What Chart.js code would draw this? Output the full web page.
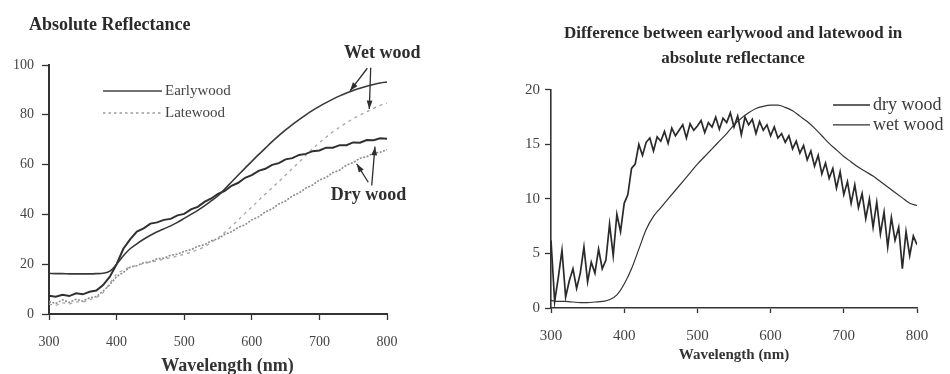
<!DOCTYPE html>
<html>
<head>
<meta charset="utf-8">
<script src="https://cdn.jsdelivr.net/npm/chart.js@4.4.1/dist/chart.umd.min.js"></script>
<style>
  html, body { margin: 0; padding: 0; background: #fff; }
  #wrap { position: relative; width: 950px; height: 374px; overflow: hidden; }
  #c1 { position: absolute; left: 0; top: 0; }
  #c2 { position: absolute; left: 480px; top: 0; }
</style>
</head>
<body>
<div id="wrap">
  <canvas id="c1" width="480" height="374"></canvas>
  <canvas id="c2" width="470" height="374"></canvas>
</div>
<script>
// ---- wavelength grids (nm) ----
const wl10 = [300,310,320,330,340,350,360,370,380,390,
              400,410,420,430,440,450,460,470,480,490,
              500,510,520,530,540,550,560,570,580,590,
              600,610,620,630,640,650,660,670,680,690,
              700,710,720,730,740,750,760,770,780,790,800];
const wl5 = [300,305,310,315,320,325,330,335,340,345,350,355,360,365,370,375,380,385,390,395,
             400,405,410,415,420,425,430,435,440,445,450,455,460,465,470,475,480,485,490,495,
             500,505,510,515,520,525,530,535,540,545,550,555,560,565,570,575,580,585,590,595,
             600,605,610,615,620,625,630,635,640,645,650,655,660,665,670,675,680,685,690,695,
             700,705,710,715,720,725,730,735,740,745,750,755,760,765,770,775,780,785,790,795,800];

// ---- absolute reflectance (%) ----
const earlyWet = [16.3,16.2,16.2,16.1,16.1,16.1,16.1,16.2,16.4,17.2,
                  20.0,23.4,26.2,28.2,30.0,31.6,33.0,34.2,35.4,36.8,
                  38.4,40.0,41.6,43.4,45.4,47.5,50.2,53.0,55.8,58.6,
                  61.3,64.0,66.6,69.2,71.6,73.9,76.1,78.1,80.0,81.8,
                  83.4,84.9,86.3,87.6,88.8,89.8,90.7,91.5,92.2,92.8,93.2];
const earlyDry = [7.3,6.9,7.7,7.2,8.3,7.9,8.9,9.4,11.6,15.0,
                  20.0,26.2,30.0,33.1,34.4,36.3,36.8,37.8,38.2,39.6,
                  40.2,42.0,43.0,45.0,46.4,48.2,49.4,51.5,52.7,54.7,
                  55.8,57.5,58.3,59.9,60.6,62.1,62.6,63.9,64.3,65.4,
                  65.7,66.8,66.8,67.8,67.8,68.9,68.8,69.9,69.8,70.6,70.4];
const lateWet = [4.0,3.5,4.5,4.1,4.9,4.9,5.7,6.6,8.6,12.4,
                 16.0,17.6,18.8,19.6,20.2,20.8,21.4,22.0,22.6,23.2,
                 24.0,24.8,25.8,27.0,28.8,30.6,32.8,35.2,37.8,40.4,
                 43.0,45.6,48.2,50.7,53.2,55.8,58.4,61.0,63.8,66.4,
                 68.8,71.0,73.2,75.0,76.8,78.4,79.9,81.2,82.6,83.8,84.6];
const lateDry = [5.0,4.2,5.7,4.6,5.9,5.2,6.5,7.0,9.2,11.8,
                 15.0,16.7,18.8,19.4,20.6,21.0,22.2,22.4,23.6,24.0,
                 25.2,25.8,27.2,27.8,29.4,30.2,32.0,33.0,34.8,35.8,
                 37.8,39.0,41.0,42.2,44.2,45.4,47.4,48.6,50.6,51.8,
                 53.8,54.8,56.8,57.8,59.8,60.8,62.6,63.2,64.6,65.0,66.0];

// ---- earlywood minus latewood (%) ----
const diffDry = [6.2,0.6,2.8,5.3,1.0,2.5,3.6,1.8,3.2,5.6,2.4,4.2,3.2,5.4,3.6,4.4,7.7,4.8,8.6,7.0,
                 9.6,10.4,12.8,13.2,15.0,14.0,15.2,15.6,14.4,15.7,15.3,16.2,15.1,16.5,15.8,16.3,16.8,15.6,16.9,16.3,
                 16.7,17.2,16.1,17.0,16.6,17.5,16.4,17.4,17.0,17.9,16.6,17.6,15.9,17.5,16.8,17.3,16.0,17.1,16.3,16.8,
                 15.8,16.6,15.6,16.0,15.2,15.8,14.6,15.3,14.2,14.9,13.6,14.4,13.0,14.0,12.3,13.3,11.9,12.8,11.0,12.5,
                 10.4,11.6,9.6,11.3,9.2,10.5,8.2,10.0,7.4,9.7,6.8,8.8,5.6,8.3,6.2,7.4,3.6,7.0,4.8,6.6,5.8];
const diffWet = [0.7,0.6,0.6,0.55,0.5,0.5,0.55,0.6,0.75,1.2,
                 2.2,3.6,5.4,7.2,8.4,9.2,10.0,10.8,11.6,12.4,
                 13.2,13.9,14.6,15.3,16.0,16.8,17.4,17.9,18.3,18.5,
                 18.6,18.6,18.4,18.1,17.6,17.1,16.5,15.8,15.1,14.5,
                 13.9,13.4,12.9,12.5,12.1,11.6,11.1,10.6,10.1,9.6,9.4];

// ---- axis ticks ----
const xTicks = [300, 400, 500, 600, 700, 800];
const yTicksAbs = [0, 20, 40, 60, 80, 100];
const yTicksDiff = [0, 5, 10, 15, 20];

const SERIF = "'Liberation Serif', 'Times New Roman', serif";
const INK = '#2e2e2e';
const GREY = '#8c8c8c';

const pts = (xs, ys) => ys.map((v, i) => ({ x: xs[i], y: v }));
const fixedTicks = arr => scale => { scale.ticks = arr.map(v => ({ value: v })); };

// let the y tick labels spill left of a narrow axis box
const labelRoom = {
  id: 'labelRoom',
  afterLayout(chart) { chart.scales.y.left = 0; }
};

function arrow(ctx, x1, y1, x2, y2, head) {
  ctx.beginPath(); ctx.moveTo(x1, y1); ctx.lineTo(x2, y2); ctx.stroke();
  const a = Math.atan2(y2 - y1, x2 - x1);
  ctx.beginPath();
  ctx.moveTo(x2, y2);
  ctx.lineTo(x2 - head * Math.cos(a - 0.33), y2 - head * Math.sin(a - 0.33));
  ctx.lineTo(x2 - head * Math.cos(a + 0.33), y2 - head * Math.sin(a + 0.33));
  ctx.closePath(); ctx.fill();
}

// callouts on the reflectance panel, in (nm, %) units
const wetCallout = { text: 'Wet wood', at: [793, 104.8],
  arrows: [[770.9, 98.7, 745.3, 89.6], [775.9, 98.9, 773.8, 82.3]] };
const dryCallout = { text: 'Dry wood', at: [772.6, 47.6],
  arrows: [[777.4, 51.6, 782.2, 67.2], [772.3, 52.9, 755.2, 60.3]] };
const absXTitle = { text: 'Wavelength (nm)', atNm: 564, offsetY: 52 };

const absDecor = {
  id: 'absDecor',
  afterDatasetsDraw(chart) {
    const { ctx, chartArea, scales: { x, y } } = chart;
    ctx.save();
    ctx.strokeStyle = INK; ctx.fillStyle = INK; ctx.lineWidth = 1.3;
    [wetCallout, dryCallout].forEach(c => {
      c.arrows.forEach(a => arrow(ctx, x.getPixelForValue(a[0]), y.getPixelForValue(a[1]),
                                       x.getPixelForValue(a[2]), y.getPixelForValue(a[3]), 9));
      ctx.font = 'bold 18px ' + SERIF;
      ctx.textAlign = 'center'; ctx.textBaseline = 'middle';
      ctx.fillText(c.text, x.getPixelForValue(c.at[0]), y.getPixelForValue(c.at[1]));
    });
    // axis title under the wavelength ticks
    ctx.fillStyle = '#333';
    ctx.fillText(absXTitle.text, x.getPixelForValue(absXTitle.atNm), chartArea.bottom + absXTitle.offsetY);
    // legend
    const lx = chartArea.left + 54, ly = chartArea.top + 26;
    ctx.lineWidth = 1.6; ctx.strokeStyle = '#444';
    ctx.beginPath(); ctx.moveTo(lx, ly); ctx.lineTo(lx + 59, ly); ctx.stroke();
    ctx.strokeStyle = '#9a9a9a'; ctx.setLineDash([2.5, 3]);
    ctx.beginPath(); ctx.moveTo(lx, ly + 22); ctx.lineTo(lx + 59, ly + 22); ctx.stroke();
    ctx.setLineDash([]);
    ctx.font = '15px ' + SERIF; ctx.fillStyle = '#444';
    ctx.textAlign = 'left'; ctx.textBaseline = 'middle';
    ctx.fillText('Earlywood', lx + 62, ly);
    ctx.fillText('Latewood', lx + 62, ly + 22);
    ctx.restore();
  }
};

const diffLegend = {
  id: 'diffLegend',
  afterDatasetsDraw(chart) {
    const { ctx, chartArea } = chart;
    const lx = chartArea.left + 282, ly = chartArea.top + 15;
    ctx.save();
    ctx.strokeStyle = INK; ctx.lineWidth = 1.6;
    ctx.beginPath(); ctx.moveTo(lx, ly); ctx.lineTo(lx + 37, ly); ctx.stroke();
    ctx.lineWidth = 1.2;
    ctx.beginPath(); ctx.moveTo(lx, ly + 20); ctx.lineTo(lx + 37, ly + 20); ctx.stroke();
    ctx.font = '18px ' + SERIF; ctx.fillStyle = '#3a3a3a';
    ctx.textAlign = 'left'; ctx.textBaseline = 'middle';
    ctx.fillText('dry wood', lx + 40, ly);
    ctx.fillText('wet wood', lx + 40, ly + 20);
    ctx.restore();
  }
};

Chart.defaults.font.family = SERIF;
Chart.defaults.color = '#444';

function axisX(tickFont, tickLen, tickPad, title, height, borderW) {
  return {
    type: 'linear', min: 300, max: 800,
    afterBuildTicks: fixedTicks(xTicks),
    afterFit: s => { s.height = height; },
    border: { display: true, color: '#333', width: borderW },
    grid: { display: true, drawOnChartArea: false, drawTicks: true, tickLength: tickLen, tickColor: '#333', tickWidth: 1.3 },
    ticks: { font: tickFont, padding: tickPad, color: '#444', maxRotation: 0 },
    title: title
  };
}

new Chart(document.getElementById('c1'), {
  type: 'line',
  data: {
    datasets: [
      { label: 'Earlywood (wet)', data: pts(wl10, earlyWet), borderColor: '#383838', borderWidth: 1.6, cubicInterpolationMode: 'monotone' },
      { label: 'Earlywood (dry)', data: pts(wl10, earlyDry), borderColor: '#303030', borderWidth: 2, tension: 0 },
      { label: 'Latewood (wet)', data: pts(wl10, lateWet), borderColor: '#a5a5a5', borderWidth: 1.3, borderDash: [3, 4], cubicInterpolationMode: 'monotone' },
      { label: 'Latewood (dry)', data: pts(wl10, lateDry), borderColor: GREY, borderWidth: 1.6, borderDash: [2, 1.5], tension: 0 }
    ]
  },
  options: {
    responsive: false, animation: false, devicePixelRatio: 1,
    layout: { padding: { left: 29, right: 93, top: 0, bottom: 0 } },
    elements: { point: { radius: 0 } },
    plugins: {
      legend: { display: false }, tooltip: { enabled: false },
      title: { display: true, align: 'start', text: 'Absolute Reflectance', color: '#2a2a2a',
               font: { size: 18, weight: 'bold', lineHeight: 1.2 }, padding: { top: 14.7, bottom: 28.7 } }
    },
    scales: {
      x: axisX({ size: 14 }, 6, 13.6, { display: false }, 60, 2),
      y: {
        min: 0, max: 100,
        afterBuildTicks: fixedTicks(yTicksAbs),
        afterFit: s => { s.width = 20; },
        border: { display: true, color: '#333', width: 2 },
        grid: { display: true, drawOnChartArea: false, drawTicks: true, tickLength: 7, tickColor: '#333', tickWidth: 1.3 },
        ticks: { font: { size: 14 }, padding: 8, color: '#444' }
      }
    }
  },
  plugins: [labelRoom, absDecor]
});

new Chart(document.getElementById('c2'), {
  type: 'line',
  data: {
    datasets: [
      { label: 'dry wood', data: pts(wl5, diffDry), borderColor: '#2a2a2a', borderWidth: 1.7, tension: 0 },
      { label: 'wet wood', data: pts(wl10, diffWet), borderColor: '#333', borderWidth: 1.2, cubicInterpolationMode: 'monotone' }
    ]
  },
  options: {
    responsive: false, animation: false, devicePixelRatio: 1,
    layout: { padding: { left: 69, right: 33, top: 0, bottom: 0 } },
    elements: { point: { radius: 0 } },
    plugins: {
      legend: { display: false }, tooltip: { enabled: false },
      title: { display: true, align: 'center',
               text: ['Difference between earlywood and latewood in', 'absolute reflectance'],
               color: '#2a2a2a', font: { size: 17, weight: 'bold', lineHeight: 1.44 },
               padding: { top: 21.75, bottom: 19.25 } }
    },
    scales: {
      x: axisX({ size: 15 }, 5, 14,
               { display: true, text: 'Wavelength (nm)', font: { size: 15, weight: 'bold', lineHeight: 1 },
                 color: '#333', padding: { top: 0, bottom: 11.5 } }, 66, 1.6),
      y: {
        min: 0, max: 20,
        afterBuildTicks: fixedTicks(yTicksDiff),
        afterFit: s => { s.width = 2; },
        border: { display: true, color: '#333', width: 1.6 },
        grid: { display: true, drawOnChartArea: false, drawTicks: true, tickLength: 6, tickColor: '#333', tickWidth: 1.3 },
        ticks: { font: { size: 15 }, padding: 5, color: '#444' }
      }
    }
  },
  plugins: [labelRoom, diffLegend]
});
</script>
</body>
</html>
